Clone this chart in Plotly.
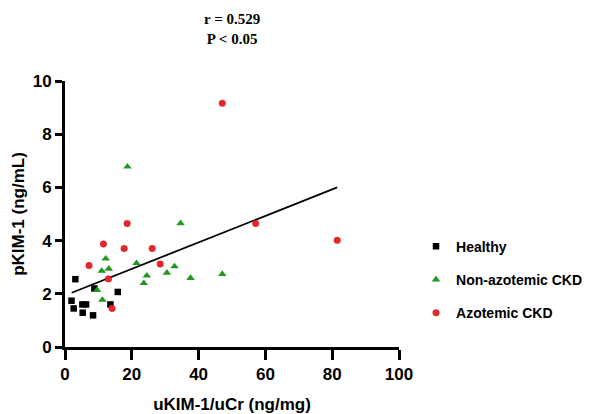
import plotly.graph_objects as go

# Healthy
healthy_x = [3.1, 1.95, 2.6, 5.2, 6.3, 5.3, 8.4, 8.8, 13.6, 15.8]
healthy_y = [2.55, 1.74, 1.45, 1.6, 1.6, 1.29, 1.19, 2.2, 1.6, 2.07]
# Non-azotemic CKD
nonaz_x = [18.7, 34.6, 12.2, 11.0, 13.1, 21.4, 9.6, 11.2, 24.5, 23.6, 30.5, 32.8, 37.6, 47.1]
nonaz_y = [6.78, 4.65, 3.32, 2.86, 2.94, 3.15, 2.14, 1.77, 2.68, 2.4, 2.79, 3.03, 2.59, 2.74]
# Azotemic CKD
az_x = [47.1, 18.6, 57.1, 11.5, 17.7, 26.1, 7.2, 28.5, 13.0, 14.1, 81.5]
az_y = [9.16, 4.64, 4.64, 3.87, 3.7, 3.7, 3.06, 3.12, 2.56, 1.45, 4.01]
# regression line
fit_x = [2.0, 81.5]
fit_y = [2.04, 6.0]

x_ticks = [0, 20, 40, 60, 80, 100]
y_ticks = [0, 2, 4, 6, 8, 10]

sans = "Liberation Sans, Arial, sans-serif"
serif = "Liberation Serif, Times New Roman, serif"

fig = go.Figure()
fig.add_trace(go.Scatter(x=fit_x, y=fit_y, mode="lines", line=dict(color="black", width=1.8),
                         showlegend=False, hoverinfo="skip"))
fig.add_trace(go.Scatter(x=healthy_x, y=healthy_y, mode="markers", name="Healthy", legendgroup="a",
                         marker=dict(symbol="square", size=6.5, color="black")))
fig.add_trace(go.Scatter(x=nonaz_x, y=nonaz_y, mode="markers", name="Non-azotemic CKD", legendgroup="b",
                         marker=dict(symbol="triangle-up", size=7.5, color="#1f9a1f")))
fig.add_trace(go.Scatter(x=az_x, y=az_y, mode="markers", name="Azotemic CKD", legendgroup="c",
                         marker=dict(symbol="circle", size=6.5, color="#e8262a",
                                     line=dict(color="#c81e22", width=0.5))))

fig.update_layout(
    width=592, height=414,
    margin=dict(l=65, r=193, t=81, b=67, autoexpand=False),
    paper_bgcolor="white", plot_bgcolor="white",
    font=dict(family=sans, color="black"),
    legend=dict(x=1.051, y=0.437, xanchor="left", yanchor="top",
                font=dict(family=sans, size=14, weight="bold", color="black"),
                tracegroupgap=12, itemwidth=30, bgcolor="rgba(0,0,0,0)"),
    annotations=[dict(text="r = 0.529<br>P < 0.05", x=0.5, y=1.27, xref="paper", yref="paper",
                      xanchor="center", yanchor="top", showarrow=False,
                      font=dict(family=serif, size=15, weight="bold", color="black"))],
)
fig.update_xaxes(range=[0, 100], tickvals=x_ticks, ticktext=[str(v) for v in x_ticks],
                 automargin=False,
                 showgrid=False, zeroline=False, showline=True, linecolor="black", linewidth=3,
                 ticks="outside", ticklen=10, tickwidth=2.5, tickcolor="black",
                 tickfont=dict(family=sans, size=17, weight="bold"),
                 title=dict(text="uKIM-1/uCr (ng/mg)", font=dict(family=sans, size=17, weight="bold"), standoff=15))
fig.update_yaxes(range=[0, 10], tickvals=y_ticks, ticktext=[str(v) for v in y_ticks],
                 automargin=False,
                 showgrid=False, zeroline=False, showline=True, linecolor="black", linewidth=3,
                 ticks="outside", ticklen=7, tickwidth=2.5, tickcolor="black",
                 tickfont=dict(family=sans, size=17, weight="bold"),
                 title=dict(text="pKIM-1 (ng/mL)", font=dict(family=sans, size=17, weight="bold"), standoff=4))

fig.write_html("out.html", config={"displayModeBar": False},
               post_script="document.body.style.margin='0';")
